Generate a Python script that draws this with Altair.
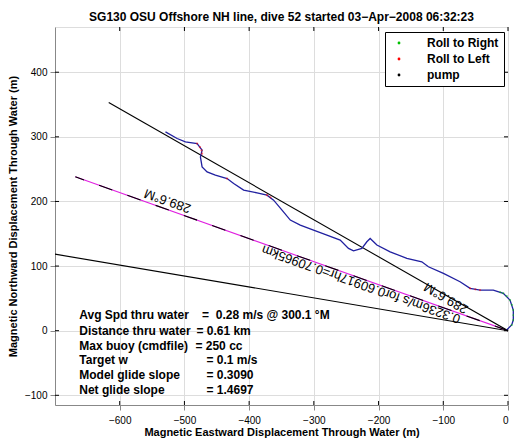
import altair as alt
import pandas as pd

FONT = "Liberation Sans"

title_text = "SG130 OSU Offshore NH line, dive 52 started 03\u2212Apr\u22122008 06:32:23"
x_title = "Magnetic Eastward Displacement Through Water (m)"
y_title = "Magnetic Northward Displacement Through Water (m)"

x_ticks = [-600, -500, -400, -300, -200, -100, 0]
y_ticks = [-100, 0, 100, 200, 300, 400]
x_domain = [-700, 0]
y_domain = [-115, 470]

# glider track through water (m)
track_x = [-529.3, -511.3, -498.5, -480.4, -472.7, -475.3, -472.7, -465.0, -452.2, -434.1,
           -423.9, -408.5, -387.8, -372.4, -362.2, -349.2, -336.4, -321.0, -300.5, -279.8,
           -259.3, -246.5, -238.7, -225.8, -218.1, -213.0, -202.6, -182.1, -156.3, -133.2,
           -123.0, -99.8, -74.1, -58.6, -43.2, -22.7, -7.3, 3.1, 8.2, 8.2, 5.7, -2.0]
track_y = [307.6, 297.4, 292.1, 289.6, 279.3, 268.9, 253.5, 245.7, 240.6, 235.5,
           227.8, 217.5, 213.3, 209.7, 202.0, 186.6, 171.2, 163.4, 155.7, 148.0,
           140.3, 127.4, 123.6, 127.4, 137.6, 142.8, 132.5, 122.1, 111.9, 106.6,
           98.9, 88.7, 75.7, 65.5, 62.9, 62.9, 57.8, 47.4, 32.0, 16.5, 8.8, 1.1]

# roll / pump markers
left_x = [-480.4, -476.0, -473.5, -472.7, -434.1, -372.4, -367.0, -58.6, -50.5, -43.2]
left_y = [289.6, 284.0, 279.0, 274.0, 235.5, 209.7, 206.5, 65.5, 64.0, 62.9]
right_x = [-12.0, -7.3, -2.0, 3.1, 6.0, 8.2, 8.6, 8.2, 5.7]
right_y = [59.5, 57.8, 53.5, 47.4, 40.0, 32.0, 24.0, 16.5, 8.8]
pump_x = [-1.0]
pump_y = [0.5]

# heading lines from the origin
line300_x = [0.0, -617.0]
line300_y = [0.0, 353.0]
line289_x = [0.0, -668.6]
line289_y = [0.0, 238.1]
line279_x = [0.0, -700.0]
line279_y = [0.0, 118.5]

# rotated annotations
ann_text = ["289.6\u00b0M", "0.3236m/s for0.60917hr=0.70965km", "289.6\u00b0M"]
ann_x = [-526.0, -227.0, -95.7]
ann_y = [201.0, 72.0, 50.5]
ann_angle = [199.6, 199.6, 210.1]

# info block
info_label = ["Avg Spd thru water", "Distance thru water", "Max buoy (cmdfile)",
              "Target w", "Model glide slope", "Net glide slope"]
info_value = ["=\u00a0\u00a00.28 m/s @ 300.1 \u00b0M", "= 0.61 km", "= 250 cc",
              "= 0.1 m/s", "= 0.3090", "= 1.4697"]
info_y = [24.0, 0.0, -23.0, -46.0, -69.0, -92.0]
info_x1 = [-662.5] * 6
info_x2 = [-472.7, -481.5, -483.0, -466.0, -466.0, -466.0]

W, H = 453, 378

xs = alt.Scale(domain=x_domain, nice=False, zero=False)
ys = alt.Scale(domain=y_domain, nice=False, zero=False)
xax = alt.Axis(values=x_ticks, title=x_title, format="d", labelPadding=5, titlePadding=1)
yax = alt.Axis(values=y_ticks, title=y_title, format="d", labelPadding=3, titlePadding=6)


def X(f):
    return alt.X(f, type="quantitative", scale=xs, axis=xax)


def Y(f):
    return alt.Y(f, type="quantitative", scale=ys, axis=yax)


def line_df(xv, yv):
    return pd.DataFrame({"x": xv, "y": yv, "i": list(range(len(xv)))})


l300 = alt.Chart(line_df(line300_x, line300_y)).mark_line(color="black", strokeWidth=1.1, clip=True).encode(
    x=X("x"), y=Y("y"), order="i:Q")
l279 = alt.Chart(line_df(line279_x, line279_y)).mark_line(color="black", strokeWidth=1.1, clip=True).encode(
    x=X("x"), y=Y("y"), order="i:Q")
l289m = alt.Chart(line_df(line289_x, line289_y)).mark_line(color="#e020e0", strokeWidth=1.1, clip=True).encode(
    x=X("x"), y=Y("y"), order="i:Q")
l289k = alt.Chart(line_df(line289_x, line289_y)).mark_line(color="black", strokeWidth=1.1, strokeDash=[14, 16], clip=True).encode(
    x=X("x"), y=Y("y"), order="i:Q")

track = alt.Chart(line_df(track_x, track_y)).mark_line(color="#2020a0", strokeWidth=1.3).encode(
    x=X("x"), y=Y("y"), order="i:Q")

pts = pd.DataFrame({
    "x": right_x + left_x + pump_x,
    "y": right_y + left_y + pump_y,
    "series": ["Roll to Right"] * len(right_x) + ["Roll to Left"] * len(left_x) + ["pump"] * len(pump_x),
})
points = alt.Chart(pts).mark_circle(size=5, opacity=0.55).encode(
    x=X("x"), y=Y("y"),
    color=alt.Color("series:N",
                    scale=alt.Scale(domain=["Roll to Right", "Roll to Left", "pump"],
                                    range=["#00c000", "#ff0000", "#000000"]),
                    legend=alt.Legend(title=None, orient="none", legendX=330, legendY=5,
                                      strokeColor="black", fillColor="white", padding=5,
                                      symbolType="circle", symbolSize=8, symbolStrokeWidth=0,
                                      symbolOpacity=1,
                                      symbolOffset=3, labelOffset=22, rowPadding=4,
                                      labelFont=FONT, labelFontSize=12, labelFontWeight="bold",
                                      labelColor="black", cornerRadius=0)))

ann = pd.DataFrame({"x": ann_x, "y": ann_y, "t": ann_text, "a": ann_angle})
ann_layer = alt.Chart(ann).mark_text(font=FONT, fontSize=13, color="black", align="center",
                                     baseline="middle").encode(
    x=X("x"), y=Y("y"), text="t:N", angle=alt.Angle("a:Q", scale=None))

info = pd.DataFrame({"x1": info_x1, "x2": info_x2, "y": info_y, "l": info_label, "v": info_value})
info1 = alt.Chart(info).mark_text(font=FONT, fontSize=12, fontWeight="bold", color="black",
                                  align="left", baseline="middle").encode(x=X("x1"), y=Y("y"), text="l:N")
info2 = alt.Chart(info).mark_text(font=FONT, fontSize=12, fontWeight="bold", color="black",
                                  align="left", baseline="middle").encode(x=X("x2"), y=Y("y"), text="v:N")

xt = pd.DataFrame({"x": x_ticks})
yt = pd.DataFrame({"y": y_ticks})
tick_b = alt.Chart(xt).mark_rule(color="black").encode(x=X("x"), y=alt.value(H), y2=alt.value(H - 4))
tick_t = alt.Chart(xt).mark_rule(color="black").encode(x=X("x"), y=alt.value(0), y2=alt.value(4))
tick_l = alt.Chart(yt).mark_rule(color="black").encode(y=Y("y"), x=alt.value(0), x2=alt.value(4))
tick_r = alt.Chart(yt).mark_rule(color="black").encode(y=Y("y"), x=alt.value(W), x2=alt.value(W - 4))

chart = alt.layer(l279, l289m, l289k, l300, track, points, ann_layer, info1, info2,
                  tick_b, tick_t, tick_l, tick_r).properties(
    width=W, height=H,
    title=alt.TitleParams(text=title_text, font=FONT, fontSize=12, fontWeight="bold",
                          color="black", anchor="middle", offset=3),
    autosize=alt.AutoSizeParams(type="none"),
    padding={"left": 47, "top": 19, "right": 6, "bottom": 37},
).configure_view(stroke="black", strokeWidth=1).configure_axis(
    grid=True, gridColor="#808080", gridDash=[1, 3], gridWidth=1,
    domain=False, ticks=False,
    labelFont=FONT, labelFontSize=12, labelFontWeight="bold", labelColor="black",
    titleFont=FONT, titleFontSize=12, titleFontWeight="bold", titleColor="black",
).configure(background="white")

chart.save("out.html", embed_options={"renderer": "svg", "actions": False})
